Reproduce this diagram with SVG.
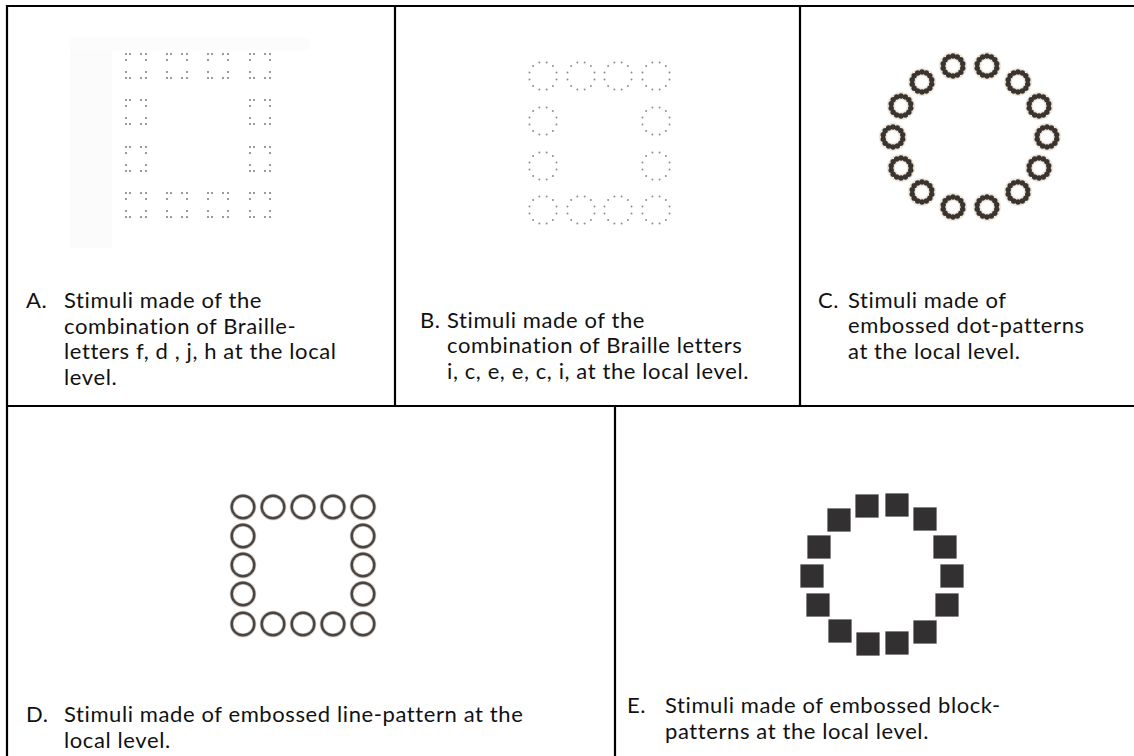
<svg xmlns="http://www.w3.org/2000/svg" xmlns:xlink="http://www.w3.org/1999/xlink" width="1134" height="756" viewBox="0 0 1134 756">
<style>
.t{font-family:Lato,"Liberation Sans",sans-serif;font-size:22px;letter-spacing:0.6px;fill:#111}
.grid line{stroke:#000;stroke-width:2.2}
.bd{fill:#7a7a7a}
.cd{fill:#8e8e8e}
.rd{fill:#3a3431}
</style>
<defs>
<g id="brl">
<circle class="bd" cx="0" cy="0" r="1"/><circle class="bd" cx="4" cy="0" r="1"/><circle class="bd" cx="15" cy="0" r="1"/><circle class="bd" cx="20" cy="0" r="1"/>
<circle class="bd" cx="0" cy="6" r="1"/><circle class="bd" cx="20" cy="6" r="1"/>
<circle class="bd" cx="0" cy="18" r="1"/><circle class="bd" cx="20" cy="18" r="1"/>
<circle class="bd" cx="0" cy="24" r="1"/><circle class="bd" cx="4" cy="24" r="1"/><circle class="bd" cx="15" cy="24" r="1"/><circle class="bd" cx="20" cy="24" r="1"/>
</g>
<g id="dc">
<circle class="cd" cx="3.6" cy="-13.5" r="1"/><circle class="cd" cx="9.9" cy="-9.9" r="1"/><circle class="cd" cx="13.5" cy="-3.6" r="1"/>
<circle class="cd" cx="13.5" cy="3.6" r="1"/><circle class="cd" cx="9.9" cy="9.9" r="1"/><circle class="cd" cx="3.6" cy="13.5" r="1"/>
<circle class="cd" cx="-3.6" cy="13.5" r="1"/><circle class="cd" cx="-9.9" cy="9.9" r="1"/><circle class="cd" cx="-13.5" cy="3.6" r="1"/>
<circle class="cd" cx="-13.5" cy="-3.6" r="1"/><circle class="cd" cx="-9.9" cy="-9.9" r="1"/><circle class="cd" cx="-3.6" cy="-13.5" r="1"/>
</g>
<g id="sr">
<circle cx="0" cy="0" r="10" fill="none" stroke="#efe6da" stroke-width="8"/>
<circle class="rd" cx="0" cy="-10" r="2.7"/><circle class="rd" cx="4.34" cy="-9.01" r="2.7"/><circle class="rd" cx="7.82" cy="-6.23" r="2.7"/><circle class="rd" cx="9.75" cy="-2.23" r="2.7"/>
<circle class="rd" cx="9.75" cy="2.23" r="2.7"/><circle class="rd" cx="7.82" cy="6.23" r="2.7"/><circle class="rd" cx="4.34" cy="9.01" r="2.7"/><circle class="rd" cx="0" cy="10" r="2.7"/>
<circle class="rd" cx="-4.34" cy="9.01" r="2.7"/><circle class="rd" cx="-7.82" cy="6.23" r="2.7"/><circle class="rd" cx="-9.75" cy="2.23" r="2.7"/>
<circle class="rd" cx="-9.75" cy="-2.23" r="2.7"/><circle class="rd" cx="-7.82" cy="-6.23" r="2.7"/><circle class="rd" cx="-4.34" cy="-9.01" r="2.7"/>
</g>
<g id="lr">
<circle cx="0" cy="0" r="11.3" fill="none" stroke="#cfc9c4" stroke-width="4"/>
<circle cx="0" cy="0" r="11.3" fill="none" stroke="#4a4441" stroke-width="2.4"/>
</g>
<g id="sq">
<rect x="-12" y="-12" width="24" height="24" fill="#d8d6d6"/>
<rect x="-11.5" y="-11.5" width="23" height="23" fill="#333031"/>
</g>
</defs>
<rect width="1134" height="756" fill="#fff"/>

<g id="grid" class="grid">
<line x1="6" y1="6" x2="1134" y2="6"/>
<line x1="7" y1="5" x2="7" y2="756"/>
<line x1="395" y1="6" x2="395" y2="406"/>
<line x1="800" y1="6" x2="800" y2="406"/>
<line x1="6" y1="406" x2="1134" y2="406"/>
<line x1="615" y1="406" x2="615" y2="756"/>
</g>

<g id="panelA">
<rect x="70" y="38" width="42" height="210" fill="#fbfbfb"/>
<rect x="70" y="38" width="240" height="12" fill="#fcfcfc"/>
<use xlink:href="#brl" x="126" y="54"/><use xlink:href="#brl" x="167" y="54"/><use xlink:href="#brl" x="208" y="54"/><use xlink:href="#brl" x="250" y="54"/>
<use xlink:href="#brl" x="126" y="100"/><use xlink:href="#brl" x="250" y="100"/>
<use xlink:href="#brl" x="126" y="147"/><use xlink:href="#brl" x="250" y="147"/>
<use xlink:href="#brl" x="126" y="193"/><use xlink:href="#brl" x="167" y="193"/><use xlink:href="#brl" x="208" y="193"/><use xlink:href="#brl" x="250" y="193"/>
<text class="t" x="26" y="308">A.</text>
<text class="t" x="64" y="308">Stimuli made of the</text>
<text class="t" x="64" y="334">combination of Braille-</text>
<text class="t" x="64" y="359">letters f, d , j, h at the local</text>
<text class="t" x="64" y="385">level.</text>
</g>

<g id="panelB">
<use xlink:href="#dc" x="543" y="76"/><use xlink:href="#dc" x="581" y="76"/><use xlink:href="#dc" x="618" y="76"/><use xlink:href="#dc" x="656" y="76"/>
<use xlink:href="#dc" x="543" y="121"/><use xlink:href="#dc" x="656" y="121"/>
<use xlink:href="#dc" x="543" y="166"/><use xlink:href="#dc" x="656" y="166"/>
<use xlink:href="#dc" x="543" y="210"/><use xlink:href="#dc" x="581" y="210"/><use xlink:href="#dc" x="618" y="210"/><use xlink:href="#dc" x="656" y="210"/>
<text class="t" x="420" y="328">B.</text>
<text class="t" x="447" y="328">Stimuli made of the</text>
<text class="t" x="447" y="353">combination of Braille letters</text>
<text class="t" x="447" y="379">i, c, e, e, c, i, at the local level.</text>
</g>

<g id="panelC">
<use xlink:href="#sr" x="953" y="66"/><use xlink:href="#sr" x="987" y="66"/>
<use xlink:href="#sr" x="922" y="82"/><use xlink:href="#sr" x="1018" y="82"/>
<use xlink:href="#sr" x="901" y="106"/><use xlink:href="#sr" x="1039" y="106"/>
<use xlink:href="#sr" x="893" y="137"/><use xlink:href="#sr" x="1047" y="137"/>
<use xlink:href="#sr" x="901" y="168"/><use xlink:href="#sr" x="1039" y="168"/>
<use xlink:href="#sr" x="922" y="192"/><use xlink:href="#sr" x="1018" y="192"/>
<use xlink:href="#sr" x="953" y="207"/><use xlink:href="#sr" x="987" y="207"/>
<text class="t" x="818" y="308">C.</text>
<text class="t" x="848" y="308">Stimuli made of</text>
<text class="t" x="848" y="333">embossed dot-patterns</text>
<text class="t" x="848" y="359">at the local level.</text>
</g>

<g id="panelD">
<use xlink:href="#lr" x="243" y="507"/><use xlink:href="#lr" x="273" y="507"/><use xlink:href="#lr" x="303" y="507"/><use xlink:href="#lr" x="333" y="507"/><use xlink:href="#lr" x="363" y="507"/>
<use xlink:href="#lr" x="243" y="536"/><use xlink:href="#lr" x="363" y="536"/>
<use xlink:href="#lr" x="243" y="565"/><use xlink:href="#lr" x="363" y="565"/>
<use xlink:href="#lr" x="243" y="594"/><use xlink:href="#lr" x="363" y="594"/>
<use xlink:href="#lr" x="243" y="624"/><use xlink:href="#lr" x="273" y="624"/><use xlink:href="#lr" x="303" y="624"/><use xlink:href="#lr" x="333" y="624"/><use xlink:href="#lr" x="363" y="624"/>
<text class="t" x="26" y="722">D.</text>
<text class="t" x="64" y="722">Stimuli made of embossed line-pattern at the</text>
<text class="t" x="64" y="748">local level.</text>
</g>

<g id="panelE">
<use xlink:href="#sq" x="867" y="506"/><use xlink:href="#sq" x="897" y="505"/>
<use xlink:href="#sq" x="839" y="520"/><use xlink:href="#sq" x="925" y="519"/>
<use xlink:href="#sq" x="819" y="547"/><use xlink:href="#sq" x="945" y="547"/>
<use xlink:href="#sq" x="812" y="576"/><use xlink:href="#sq" x="952" y="576"/>
<use xlink:href="#sq" x="818" y="605"/><use xlink:href="#sq" x="947" y="605"/>
<use xlink:href="#sq" x="840" y="631"/><use xlink:href="#sq" x="925" y="632"/>
<use xlink:href="#sq" x="868" y="644"/><use xlink:href="#sq" x="897" y="643"/>
<text class="t" x="627" y="713">E.</text>
<text class="t" x="665" y="713">Stimuli made of embossed block-</text>
<text class="t" x="665" y="739">patterns at the local level.</text>
</g>
</svg>
